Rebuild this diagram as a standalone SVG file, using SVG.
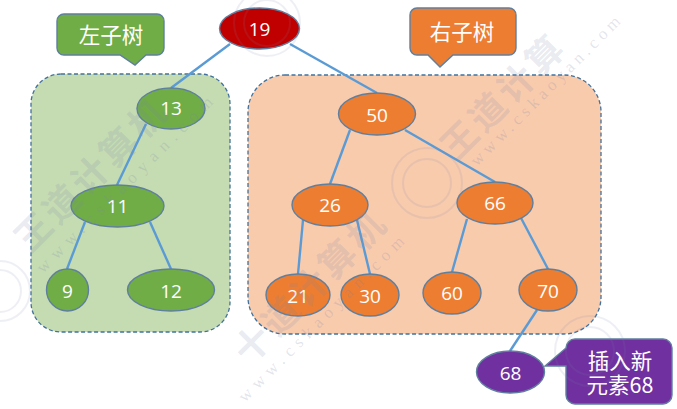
<svg xmlns="http://www.w3.org/2000/svg" width="677" height="409" viewBox="0 0 677 409">
<style>
.box{stroke:#41719c;stroke-width:1.3;stroke-dasharray:4 2.5}
.n{stroke:#5f7f9f;stroke-width:1.4}
.g{fill:#70ad47}.o{fill:#ed7d31}
.c{stroke:#5b9bd5;stroke-width:2.4;fill:none}
text{fill:#fff;text-anchor:middle}
.t{font:19px "Open Sans","Noto Sans",sans-serif}
.z{font:21.5px "Noto Sans CJK SC","Noto Sans",sans-serif}
.wm{font:bold 36px "Noto Sans CJK SC",sans-serif;fill:#7b86a8;fill-opacity:.18;text-anchor:start;letter-spacing:4px}
.wu{font:17px "Liberation Serif",serif;letter-spacing:7px;fill:#7b86a8;fill-opacity:.22;text-anchor:start}
.seal{fill:none;stroke:#7b86a8;stroke-opacity:.13;stroke-width:2}
</style>
<rect width="677" height="409" fill="#fff"/>
<g id="containers">
<rect class="box" x="31" y="74" width="199" height="258" rx="30" fill="#c5dcb2"/>
<rect class="box" x="248" y="75" width="353" height="259" rx="37" fill="#f8cbad"/>
</g>
<g id="connectors">
<line class="c" x1="230" y1="44" x2="171" y2="88"/>
<line class="c" x1="290" y1="44" x2="377" y2="93"/>
<line class="c" x1="146" y1="124" x2="117" y2="185"/>
<line class="c" x1="85" y1="222" x2="67" y2="269"/>
<line class="c" x1="150" y1="222" x2="171" y2="269"/>
<line class="c" x1="350" y1="130" x2="330" y2="184"/>
<line class="c" x1="405" y1="130" x2="495" y2="182"/>
<line class="c" x1="303" y1="220" x2="298" y2="274"/>
<line class="c" x1="357" y1="220" x2="370" y2="274"/>
<line class="c" x1="467" y1="219" x2="452" y2="272"/>
<line class="c" x1="521" y1="218" x2="548" y2="269"/>
<line class="c" x1="537" y1="310" x2="510" y2="351"/>
</g>
<g id="n19"><ellipse class="n" cx="259.5" cy="28.5" rx="40" ry="20.5" fill="#c00000"/><text class="t" x="259.5" y="36">19</text></g>
<g id="n13"><ellipse class="n g" cx="171" cy="108.5" rx="34" ry="20.5"/><text class="t" x="171" y="115">13</text></g>
<g id="n11"><ellipse class="n g" cx="117.5" cy="206" rx="46.5" ry="21"/><text class="t" x="117.5" y="213">11</text></g>
<g id="n9"><ellipse class="n g" cx="67.5" cy="290" rx="21" ry="21"/><text class="t" x="67.5" y="297.5">9</text></g>
<g id="n12"><ellipse class="n g" cx="171" cy="290" rx="43.5" ry="21"/><text class="t" x="171" y="297.5">12</text></g>
<g id="n50"><ellipse class="n o" cx="377" cy="114" rx="38.5" ry="21"/><text class="t" x="377" y="121.5">50</text></g>
<g id="n26"><ellipse class="n o" cx="330" cy="205" rx="38" ry="21"/><text class="t" x="330" y="212">26</text></g>
<g id="n66"><ellipse class="n o" cx="495" cy="203" rx="38" ry="21"/><text class="t" x="495" y="210">66</text></g>
<g id="n21"><ellipse class="n o" cx="298" cy="295" rx="32" ry="21"/><text class="t" x="298" y="302.5">21</text></g>
<g id="n30"><ellipse class="n o" cx="370" cy="295" rx="29" ry="21"/><text class="t" x="370" y="302.5">30</text></g>
<g id="n60"><ellipse class="n o" cx="452" cy="293" rx="29" ry="21"/><text class="t" x="452" y="300">60</text></g>
<g id="n70"><ellipse class="n o" cx="548" cy="290" rx="29" ry="21"/><text class="t" x="548" y="297.5">70</text></g>
<g id="n68"><ellipse class="n" cx="510.5" cy="372" rx="34" ry="21" fill="#7030a0"/><text class="t" x="510.5" y="380">68</text></g>
<g id="label-left"><path class="n g" d="M64 14H157a7 7 0 0 1 7 7V48a7 7 0 0 1-7 7H146L135 65 120 55H64a7 7 0 0 1-7-7V21a7 7 0 0 1 7-7Z"/><text class="z" x="111" y="43">左子树</text></g>
<g id="label-right"><path class="n o" d="M417 8H509a7 7 0 0 1 7 7V48a7 7 0 0 1-7 7H453L440 67 428 55H417a7 7 0 0 1-7-7V15a7 7 0 0 1 7-7Z"/><text class="z" x="462" y="40">右子树</text></g>
<g id="label-new"><path class="n" fill="#7030a0" d="M575 339H663a9 9 0 0 1 9 9V395a9 9 0 0 1-9 9H575a9 9 0 0 1-9-9V366L545 366 566 348A9 9 0 0 1 575 339Z"/><text class="z" x="620" y="369">插入新<tspan x="620" dy="24">元素68</tspan></text></g>
<g id="watermark">
<text class="wm" transform="translate(30 254) rotate(-45)">王道计算机</text>
<text class="wm" transform="translate(456 162) rotate(-45)">王道计算</text>
<text class="wm" transform="translate(249 366) rotate(-45)">十道计算机</text>
<text class="wu" transform="translate(43 274) rotate(-45)">www.cskaoyan.com</text>
<text class="wu" transform="translate(477 167) rotate(-45)" style="letter-spacing:4.5px">www.cskaoyan.com</text>
<text class="wu" transform="translate(245 403) rotate(-45)" style="letter-spacing:6px">www.cskaoyan.com</text>
<circle class="seal" cx="427" cy="183" r="35"/><circle class="seal" cx="427" cy="183" r="24"/>
<circle class="seal" cx="0" cy="291" r="30"/><circle class="seal" cx="0" cy="291" r="21"/>
<circle class="seal" cx="267" cy="23" r="33"/><circle class="seal" cx="267" cy="23" r="23"/>
<circle class="seal" cx="590" cy="351" r="35"/><circle class="seal" cx="590" cy="351" r="24"/>
</g>
</svg>
